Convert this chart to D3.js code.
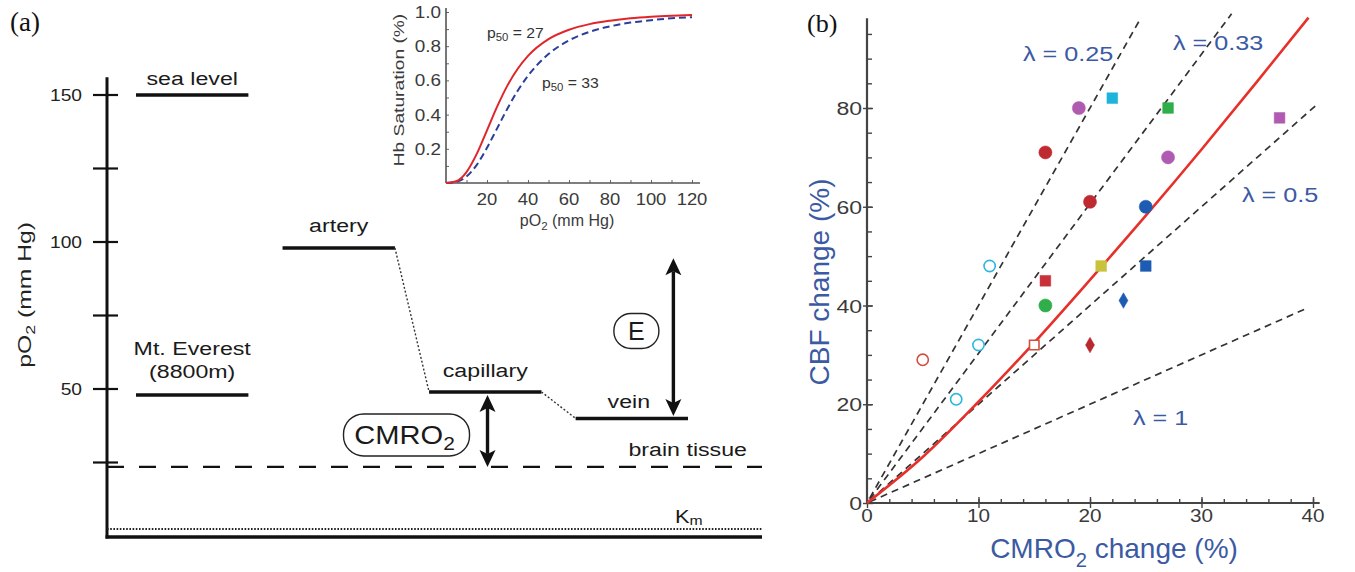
<!DOCTYPE html>
<html><head><meta charset="utf-8">
<script src="https://cdn.jsdelivr.net/npm/d3@7"></script>
<style>body{margin:0;background:#fff}</style>
</head><body>
<svg id="c" width="1355" height="572"></svg>
<script>
// ================= DATA =================
// Panel (a): oxygen partial pressure levels (mm Hg)
const aTickValues = [25, 50, 75, 100, 125, 150];
const aTickLabels = ["", "50", "", "100", "", "150"];
const stages = ["reference", "artery", "capillary", "vein"];
const levelNames = ["sea level", "Mt. Everest", "artery", "capillary", "vein"];
const levelStage = ["reference", "reference", "artery", "capillary", "vein"];
const levelValues = [150, 48, 98, 49, 40];
const brainTissueValue = 23.5;
const kmValue = 2.4;
const eArrowTop = 94.5;       // extraction arrow top (mm Hg)

// Inset: Hb saturation curves
const insetPO2 = [0, 5, 10, 15, 20, 25, 30, 35, 40, 50, 60, 70, 80, 90, 100, 110, 120];
const satP50_27 = [0, 0.010, 0.064, 0.170, 0.308, 0.448, 0.571, 0.668, 0.743, 0.841, 0.896, 0.929, 0.949, 0.963, 0.972, 0.978, 0.982];
const satP50_33 = [0, 0.006, 0.038, 0.106, 0.206, 0.321, 0.436, 0.540, 0.627, 0.754, 0.834, 0.884, 0.916, 0.938, 0.952, 0.963, 0.970];
const insetXTicks = [20, 40, 60, 80, 100, 120];
const insetYTicks = [0.2, 0.4, 0.6, 0.8, 1.0];
const insetYLabels = ["0.2", "0.4", "0.6", "0.8", "1.0"];

// Panel (b): CBF vs CMRO2 change
const bXTicks = [0, 10, 20, 30, 40];
const bYTicks = [0, 20, 40, 60, 80];
const lambdaValues = [0.25, 0.33, 0.5, 1];
const lambdaLabels = ["λ = 0.25", "λ = 0.33", "λ = 0.5", "λ = 1"];
const lambdaEndX = [24.5, 32.7, 40.2, 39.6];
const fitX = [0, 5, 10, 15, 20, 25, 30, 35, 39.6];
const fitY = [0, 9.3, 20.5, 32.5, 45.2, 58.2, 71.6, 85.4, 98.3];
const pointX = [19, 27, 22, 27, 16, 20, 25, 11, 10, 8, 21, 25, 16, 16, 23, 37, 5, 15, 20];
const pointY = [80, 70, 82, 80, 71, 61, 60, 48, 32, 21, 48, 48, 45, 40, 41, 78, 29, 32, 32];
const pointGroup = ["purpleCircle", "purpleCircle", "cyanSquare", "greenSquare", "darkRedCircle", "darkRedCircle",
  "blueCircle", "cyanOpenCircle", "cyanOpenCircle", "cyanOpenCircle", "yellowSquare", "blueSquare", "redSquare",
  "greenCircle", "blueDiamond", "purpleSquare", "redOpenCircle", "redOpenSquare", "darkRedDiamond"];

// ================= STYLE =================
const FF = "'Liberation Sans', Arial, Helvetica, sans-serif";
const SERIF = "'Liberation Serif', 'Times New Roman', serif";
const BLUE_TXT = "#3b5aa3";
const groupStyle = {
  purpleCircle: { shape: d3.symbolCircle, size: 135, color: "#b05bb2", fill: true },
  cyanSquare: { shape: d3.symbolSquare, size: 115, color: "#1eb3db", fill: true },
  greenSquare: { shape: d3.symbolSquare, size: 115, color: "#2fae4b", fill: true },
  darkRedCircle: { shape: d3.symbolCircle, size: 135, color: "#be2a30", fill: true },
  blueCircle: { shape: d3.symbolCircle, size: 135, color: "#1d5cb2", fill: true },
  cyanOpenCircle: { shape: d3.symbolCircle, size: 100, color: "#2cb7e0", fill: false },
  yellowSquare: { shape: d3.symbolSquare, size: 115, color: "#c9c33b", fill: true },
  blueSquare: { shape: d3.symbolSquare, size: 115, color: "#1d5cb2", fill: true },
  redSquare: { shape: d3.symbolSquare, size: 115, color: "#c9313a", fill: true },
  greenCircle: { shape: d3.symbolCircle, size: 135, color: "#2fae4b", fill: true },
  blueDiamond: { shape: d3.symbolDiamond, size: 70, color: "#1d5cb2", fill: true },
  purpleSquare: { shape: d3.symbolSquare, size: 115, color: "#b05bb2", fill: true },
  redOpenCircle: { shape: d3.symbolCircle, size: 100, color: "#d24e3e", fill: false },
  redOpenSquare: { shape: d3.symbolSquare, size: 90, color: "#d24e3e", fill: false },
  darkRedDiamond: { shape: d3.symbolDiamond, size: 70, color: "#b8282e", fill: true }
};

const svg = d3.select("#c");
svg.append("rect").attr("width", 1355).attr("height", 572).attr("fill", "#fff");

function label(g, x, y, parts, o = {}) {
  const size = o.size || 16;
  let tr = `translate(${x},${y})`;
  if (o.rot) tr += ` rotate(${o.rot})`;
  if (o.sx && o.sx !== 1) tr += ` scale(${o.sx},1)`;
  const t = g.append("text").attr("transform", tr)
    .attr("text-anchor", o.anchor || "start")
    .attr("font-family", o.ff || FF)
    .attr("font-size", size)
    .attr("fill", o.fill || "#1a1a1a");
  if (typeof parts === "string") parts = [[parts, 0]];
  let lowered = false;
  const shift = size * (o.subShift || 0.28);
  parts.forEach(([s, sub]) => {
    const ts = t.append("tspan").text(s);
    if (sub) {
      ts.attr("font-size", size * 0.72);
      if (!lowered) { ts.attr("dy", shift); lowered = true; }
    } else if (lowered) { ts.attr("dy", -shift); lowered = false; }
  });
  return t;
}

// ================= PANEL (a) =================
const gA = svg.append("g");
label(gA, 10, 31, "(a)", { ff: SERIF, size: 27, fill: "#111" });

const yA = d3.scaleLinear().domain([0, 150]).range([536, 95]);
const xStage = d3.scaleBand().domain(stages).range([136, 688]).paddingInner(0.233).paddingOuter(0);
const bw = xStage.bandwidth();
const axA = 107, rightA = 762;

// axis via d3
const axisA = d3.axisLeft(yA).tickValues(aTickValues).tickFormat("").tickSize(0);
const gAx = gA.append("g").attr("transform", `translate(${axA},0)`).call(axisA);
gAx.select(".domain").remove();
gA.append("line").attr("x1", axA).attr("x2", axA).attr("y1", yA(156)).attr("y2", yA(0) + 2.5)
  .attr("stroke", "#111").attr("stroke-width", 3);
aTickValues.forEach((v, i) => {
  gA.append("line").attr("x1", axA - 14).attr("x2", axA + 11).attr("y1", yA(v)).attr("y2", yA(v))
    .attr("stroke", "#111").attr("stroke-width", 2.2);
  if (aTickLabels[i]) label(gA, 82, yA(v) + 6, aTickLabels[i], { anchor: "end", size: 16, sx: 1.2, fill: "#222" });
});
label(gA, 31, yA(82), [["pO", 0], ["2", 1], [" (mm Hg)", 0]], { rot: -90, anchor: "middle", size: 19, sx: 1.3, fill: "#222", subShift: 0.2 });

// baseline lines
gA.append("line").attr("x1", axA).attr("x2", rightA).attr("y1", yA(brainTissueValue)).attr("y2", yA(brainTissueValue))
  .attr("stroke", "#111").attr("stroke-width", 2.4).attr("stroke-dasharray", "17,15");
gA.append("line").attr("x1", axA).attr("x2", rightA).attr("y1", yA(kmValue)).attr("y2", yA(kmValue))
  .attr("stroke", "#222").attr("stroke-width", 2).attr("stroke-dasharray", "1.6,1.6");
gA.append("line").attr("x1", axA - 1.5).attr("x2", rightA).attr("y1", yA(0) + 1).attr("y2", yA(0) + 1)
  .attr("stroke", "#111").attr("stroke-width", 3.5);

// level segments
levelValues.forEach((v, i) => {
  const x0 = xStage(levelStage[i]);
  gA.append("line").attr("x1", x0).attr("x2", x0 + bw).attr("y1", yA(v)).attr("y2", yA(v))
    .attr("stroke", "#111").attr("stroke-width", 3.5);
});
// dotted connectors artery -> capillary -> vein
const connIdx = [[2, 3], [3, 4]];
connIdx.forEach(([a, b]) => {
  gA.append("line")
    .attr("x1", xStage(levelStage[a]) + bw).attr("y1", yA(levelValues[a]))
    .attr("x2", xStage(levelStage[b])).attr("y2", yA(levelValues[b]))
    .attr("stroke", "#333").attr("stroke-width", 1.4).attr("stroke-dasharray", "2,2");
});
// level labels
const lblOpt = { anchor: "middle", size: 19, sx: 1.22, fill: "#1a1a1a" };
label(gA, xStage("reference") + bw / 2, yA(levelValues[0]) - 10, levelNames[0], lblOpt);
label(gA, xStage("reference") + bw / 2, yA(levelValues[1]) - 40, levelNames[1], lblOpt);
label(gA, xStage("reference") + bw / 2, yA(levelValues[1]) - 17, "(8800m)", lblOpt);
label(gA, xStage("artery") + bw / 2, yA(levelValues[2]) - 16, levelNames[2], lblOpt);
label(gA, xStage("capillary") + bw / 2, yA(levelValues[3]) - 15, levelNames[3], lblOpt);
label(gA, xStage("vein") + bw / 2 - 3, yA(levelValues[4]) - 10, levelNames[4], lblOpt);
label(gA, 747, yA(brainTissueValue) - 11, "brain tissue", { anchor: "end", size: 19, sx: 1.22 });
label(gA, 675, yA(kmValue) - 6, [["K", 0], ["m", 1]], { size: 19, sx: 1.15, subShift: 0.12 });

// double arrows
function arrowV(g, x, y1, y2) {
  const hl = 17, hw = 8, notch = 4;
  g.append("line").attr("x1", x).attr("x2", x).attr("y1", y1 + hl - notch).attr("y2", y2 - hl + notch)
    .attr("stroke", "#111").attr("stroke-width", 3.4);
  const head = (tip, dir) => `M${x},${tip} L${x + hw},${tip + dir * hl} L${x},${tip + dir * (hl - notch)} L${x - hw},${tip + dir * hl} Z`;
  g.append("path").attr("d", head(y1, 1)).attr("fill", "#111");
  g.append("path").attr("d", head(y2, -1)).attr("fill", "#111");
}
const eX = xStage("vein") + 0.87 * bw;
const eY1 = yA(eArrowTop), eY2 = yA(levelValues[4]) - 2.5;
arrowV(gA, eX, eY1, eY2);
const cmX = xStage("capillary") + 0.52 * bw;
const cmY1 = yA(levelValues[3]) + 3, cmY2 = yA(brainTissueValue);
arrowV(gA, cmX, cmY1, cmY2);
// E badge
const eCx = eX - 37, eCy = (eY1 + eY2) / 2 - 6;
gA.append("rect").attr("x", eCx - 22.5).attr("y", eCy - 17.5).attr("width", 45).attr("height", 35).attr("rx", 17)
  .attr("fill", "#fff").attr("stroke", "#222").attr("stroke-width", 1.4);
label(gA, eCx, eCy + 9, "E", { anchor: "middle", size: 25, fill: "#1a1a1a" });
// CMRO2 badge
const cCx = cmX - 81, cCy = (cmY1 + cmY2) / 2 + 4;
gA.append("rect").attr("x", cCx - 63).attr("y", cCy - 21).attr("width", 126).attr("height", 42).attr("rx", 20)
  .attr("fill", "#fff").attr("stroke", "#222").attr("stroke-width", 1.4);
label(gA, cCx - 2, cCy + 9, [["CMRO", 0], ["2", 1]], { anchor: "middle", size: 26, sx: 1.12, fill: "#1a1a1a", subShift: 0.22 });

// ---- inset ----
const gI = svg.append("g");
const xI = d3.scaleLinear().domain([0, 120]).range([446, 692]);
const yI = d3.scaleLinear().domain([0, 1]).range([183, 12]);
const axI = gI.append("g").attr("transform", "translate(0,183)")
  .call(d3.axisBottom(xI).tickValues(d3.range(10, 121, 10)).tickFormat("").tickSize(-3).tickSizeOuter(0));
axI.select(".domain").remove();
axI.selectAll("line").attr("stroke", "#666").attr("stroke-width", 1);
const ayI = gI.append("g").attr("transform", "translate(446,0)")
  .call(d3.axisLeft(yI).tickValues(d3.range(0.1, 1.01, 0.1)).tickFormat("").tickSize(-3).tickSizeOuter(0));
ayI.select(".domain").remove();
ayI.selectAll("line").attr("stroke", "#666").attr("stroke-width", 1);
gI.append("line").attr("x1", 446).attr("x2", 700).attr("y1", 183).attr("y2", 183).attr("stroke", "#555").attr("stroke-width", 1.6);
gI.append("line").attr("x1", 446).attr("x2", 446).attr("y1", 183).attr("y2", 8).attr("stroke", "#555").attr("stroke-width", 1.6);
insetYTicks.forEach((v, i) => label(gI, 441, yI(v) + 6, insetYLabels[i], { anchor: "end", size: 16, sx: 1.18, fill: "#3a3a3a" }));
insetXTicks.forEach(v => label(gI, xI(v), 205, String(v), { anchor: "middle", size: 16, sx: 1.15, fill: "#3a3a3a" }));
label(gI, 567, 226, [["pO", 0], ["2", 1], [" (mm Hg)", 0]], { anchor: "middle", size: 16, sx: 1.0, fill: "#3a3a3a", subShift: 0.25 });
label(gI, 404, 90, "Hb Saturation (%)", { rot: -90, anchor: "middle", size: 15, sx: 1.28, fill: "#3a3a3a" });
const lineI = d3.line().x(d => xI(d[0])).y(d => yI(d[1])).curve(d3.curveMonotoneX);
gI.append("path").attr("d", lineI(insetPO2.map((p, i) => [p, satP50_33[i]])))
  .attr("fill", "none").attr("stroke", "#2b3f9a").attr("stroke-width", 2).attr("stroke-dasharray", "7,4");
gI.append("path").attr("d", lineI(insetPO2.map((p, i) => [p, satP50_27[i]])))
  .attr("fill", "none").attr("stroke", "#e0262b").attr("stroke-width", 2);
label(gI, 487, 38, [["p", 0], ["50", 1], [" = 27", 0]], { size: 15, sx: 1.05, fill: "#333", subShift: 0.2 });
label(gI, 542, 88, [["p", 0], ["50", 1], [" = 33", 0]], { size: 15, sx: 1.05, fill: "#333", subShift: 0.2 });

// ================= PANEL (b) =================
const gB = svg.append("g");
label(gB, 807, 32, "(b)", { ff: SERIF, size: 26, fill: "#111" });
const xB = d3.scaleLinear().domain([0, 40]).range([867, 1313]);
const yB = d3.scaleLinear().domain([0, 80]).range([503, 108]);

// minor ticks
const mx = gB.append("g").attr("transform", `translate(0,${yB(0)})`)
  .call(d3.axisBottom(xB).tickValues(d3.range(2, 41, 2)).tickFormat("").tickSize(-4).tickSizeOuter(0));
mx.select(".domain").remove();
const my = gB.append("g").attr("transform", `translate(${xB(0)},0)`)
  .call(d3.axisLeft(yB).tickValues(d3.range(5, 96, 5)).tickFormat("").tickSize(-5).tickSizeOuter(0));
my.select(".domain").remove();
// major ticks
const Mx = gB.append("g").attr("transform", `translate(0,${yB(0)})`)
  .call(d3.axisBottom(xB).tickValues(bXTicks).tickFormat("").tickSize(5).tickSizeOuter(0));
Mx.select(".domain").remove();
Mx.selectAll("line").attr("y1", -6);
const My = gB.append("g").attr("transform", `translate(${xB(0)},0)`)
  .call(d3.axisLeft(yB).tickValues(bYTicks).tickFormat("").tickSize(4).tickSizeOuter(0));
My.select(".domain").remove();
My.selectAll("line").attr("x1", 6);
gB.selectAll(".tick line").attr("stroke", "#444").attr("stroke-width", 1.4);
// axis lines
gB.append("line").attr("x1", xB(0)).attr("x2", xB(0)).attr("y1", yB(0) + 1).attr("y2", yB(98.2)).attr("stroke", "#444").attr("stroke-width", 2.2);
gB.append("line").attr("x1", xB(0) - 1).attr("x2", xB(40.6)).attr("y1", yB(0)).attr("y2", yB(0)).attr("stroke", "#444").attr("stroke-width", 2.2);
// tick labels
bYTicks.forEach(v => label(gB, 862, yB(v) + 7, String(v), { anchor: "end", size: 18, sx: 1.28, fill: "#3a3a3a" }));
bXTicks.forEach(v => label(gB, xB(v), 522, String(v), { anchor: "middle", size: 18, sx: 1.15, fill: "#3a3a3a" }));
// titles
label(gB, 829, 282, "CBF change (%)", { rot: -90, anchor: "middle", size: 28, fill: BLUE_TXT });
label(gB, 1114, 558, [["CMRO", 0], ["2", 1], [" change (%)", 0]], { anchor: "middle", size: 28, fill: BLUE_TXT, subShift: 0.32 });

// lambda reference lines
lambdaValues.forEach((lam, i) => {
  gB.append("line").attr("x1", xB(0.25)).attr("y1", yB(0.25 / lam))
    .attr("x2", xB(lambdaEndX[i])).attr("y2", yB(lambdaEndX[i] / lam))
    .attr("stroke", "#333").attr("stroke-width", 1.7).attr("stroke-dasharray", "7,5");
});
const lamPos = [[1023, 61], [1173, 50], [1242, 202], [1133, 425]];
lambdaLabels.forEach((t, i) => label(gB, lamPos[i][0], lamPos[i][1], t, { size: 21, sx: 1.2, fill: BLUE_TXT }));

// fit curve
const lineB = d3.line().x(d => xB(d[0])).y(d => yB(d[1])).curve(d3.curveMonotoneX);
gB.append("path").attr("d", lineB(fitX.map((x, i) => [x, fitY[i]])))
  .attr("fill", "none").attr("stroke", "#e8302a").attr("stroke-width", 2.6);

// points
pointX.forEach((x, i) => {
  const st = groupStyle[pointGroup[i]];
  gB.append("path")
    .attr("d", d3.symbol().type(st.shape).size(st.size)())
    .attr("transform", `translate(${xB(x)},${yB(pointY[i])})`)
    .attr("fill", st.fill ? st.color : "#fff")
    .attr("stroke", st.color).attr("stroke-width", st.fill ? 0.5 : 1.6);
});
</script>
</body></html>
